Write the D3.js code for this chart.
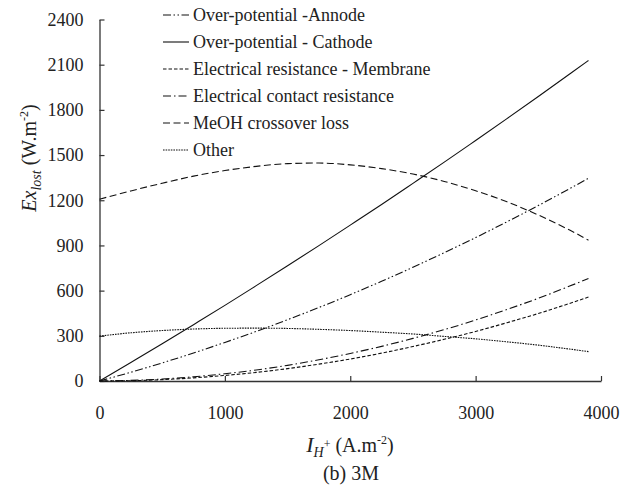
<!DOCTYPE html>
<html>
<head>
<meta charset="utf-8">
<script src="https://cdn.jsdelivr.net/npm/d3@7"></script>
<style>
  html, body { margin: 0; padding: 0; background: #fff; }
  svg { display: block; }
  svg text { font-family: "Liberation Serif", serif; }
</style>
</head>
<body>
<svg id="chart" width="633" height="488"></svg>
<script>
// Proton current density (A.m-2)
const currentDensity = [0, 250, 500, 750, 1000, 1250, 1500, 1750, 2000, 2250, 2500, 2750, 3000, 3250, 3500, 3750, 3900];

// Exergy lost per mechanism (W.m-2)
const anodeOverpotential   = [0, 58, 120, 186, 256, 329, 407, 488, 573, 662, 755, 852, 952, 1057, 1165, 1277, 1346];
const cathodeOverpotential = [0, 123, 247, 374, 502, 633, 765, 899, 1035, 1172, 1312, 1453, 1597, 1742, 1889, 2038, 2128];
const membraneResistance   = [0, 2, 9, 21, 37, 57, 82, 112, 146, 185, 229, 277, 329, 387, 448, 515, 557];
const contactResistance    = [0, 4, 13, 28, 48, 73, 104, 141, 183, 230, 283, 341, 405, 475, 549, 630, 680];
const methanolCrossover    = [1207, 1262, 1313, 1360, 1397, 1425, 1443, 1447, 1435, 1410, 1374, 1325, 1263, 1190, 1102, 1002, 935];
const otherLosses          = [298, 320, 335, 345, 350, 351, 349, 343, 335, 324, 312, 296, 280, 260, 238, 212, 195];

const seriesNames = [
  "Over-potential -Annode",
  "Over-potential - Cathode",
  "Electrical resistance - Membrane",
  "Electrical contact resistance",
  "MeOH crossover loss",
  "Other"
];

const xTicks = [0, 1000, 2000, 3000, 4000];
const yTicks = [0, 300, 600, 900, 1200, 1500, 1800, 2100, 2400];

const series = [
  { name: seriesNames[0], values: anodeOverpotential,   dash: "8,2.5,1.5,2.5,1.5,2.5" },
  { name: seriesNames[1], values: cathodeOverpotential, dash: null },
  { name: seriesNames[2], values: membraneResistance,   dash: "3.5,2" },
  { name: seriesNames[3], values: contactResistance,    dash: "8,3,1.5,3" },
  { name: seriesNames[4], values: methanolCrossover,    dash: "7,3.5" },
  { name: seriesNames[5], values: otherLosses,          dash: "1.6,1" }
];

const serif = "Liberation Serif";
const svg = d3.select("#chart");
const x = d3.scaleLinear().domain([0, 4000]).range([99.5, 601]);
const y = d3.scaleLinear().domain([0, 2400]).range([381, 19.5]);

// Axes with inward ticks
const axisColor = "#333";
const yAxis = svg.append("g")
  .attr("transform", `translate(${x(0)},0)`)
  .call(d3.axisLeft(y).tickValues(yTicks).tickFormat(d3.format("d"))
    .tickSizeInner(-5).tickSizeOuter(0).tickPadding(16));
const xAxis = svg.append("g")
  .attr("transform", `translate(0,${y(0)})`)
  .call(d3.axisBottom(x).tickValues(xTicks).tickFormat(d3.format("d"))
    .tickSizeInner(-5).tickSizeOuter(0).tickPadding(25));

[yAxis, xAxis].forEach(g => {
  g.attr("font-family", serif).attr("font-size", 18);
  g.selectAll("path.domain").attr("stroke", axisColor).attr("stroke-width", 1.3);
  g.selectAll(".tick line").attr("stroke", axisColor).attr("stroke-width", 1.2);
  g.selectAll(".tick text").attr("fill", "#222");
});

// Loss curves
const line = d3.line()
  .x((d, i) => x(currentDensity[i]))
  .y(d => y(d))
  .curve(d3.curveMonotoneX);

svg.append("g").selectAll("path")
  .data(series)
  .join("path")
  .attr("d", d => line(d.values))
  .attr("fill", "none")
  .attr("stroke", "#111")
  .attr("stroke-width", 1.1)
  .attr("stroke-dasharray", d => d.dash);

// Legend
const legend = svg.append("g").attr("font-family", serif).attr("font-size", 18);
const rows = legend.selectAll("g")
  .data(series)
  .join("g")
  .attr("transform", (d, i) => `translate(163,${15 + i * 27})`);
rows.append("line")
  .attr("x1", 0).attr("x2", 26)
  .attr("y1", 0).attr("y2", 0)
  .attr("stroke", "#111")
  .attr("stroke-width", 1.1)
  .attr("stroke-dasharray", d => d.dash);
rows.append("text")
  .attr("x", 30)
  .attr("dy", "0.35em")
  .attr("fill", "#222")
  .text(d => d.name);

// Y axis title: Ex_lost (W.m^-2)
const yTitle = svg.append("text")
  .attr("transform", "translate(36,158) rotate(-90)")
  .attr("text-anchor", "middle")
  .attr("fill", "#222")
  .attr("font-family", serif)
  .attr("font-size", 20);
yTitle.append("tspan").attr("font-style", "italic").text("Ex");
yTitle.append("tspan").attr("font-style", "italic").attr("font-size", 14).attr("dy", 5).text("lost");
yTitle.append("tspan").attr("dy", -5).text(" (W.m");
yTitle.append("tspan").attr("font-size", 12).attr("dy", -8).text("-2");
yTitle.append("tspan").attr("dy", 8).text(")");

// X axis title: I_H+ (A.m^-2)
const xTitle = svg.append("text")
  .attr("x", 350).attr("y", 452)
  .attr("text-anchor", "middle")
  .attr("fill", "#222")
  .attr("font-family", serif)
  .attr("font-size", 20);
xTitle.append("tspan").attr("font-style", "italic").attr("font-size", 22).text("I");
xTitle.append("tspan").attr("font-style", "italic").attr("font-size", 14).attr("dy", 5).text("H");
xTitle.append("tspan").attr("font-size", 12).attr("dy", -9).text("+");
xTitle.append("tspan").attr("dy", 4).text(" (A.m");
xTitle.append("tspan").attr("font-size", 12).attr("dy", -8).text("-2");
xTitle.append("tspan").attr("dy", 8).text(")");

// Panel caption
svg.append("text")
  .attr("x", 351).attr("y", 480)
  .attr("text-anchor", "middle")
  .attr("fill", "#222")
  .attr("font-family", serif)
  .attr("font-size", 20)
  .text("(b) 3M");
</script>
</body>
</html>
